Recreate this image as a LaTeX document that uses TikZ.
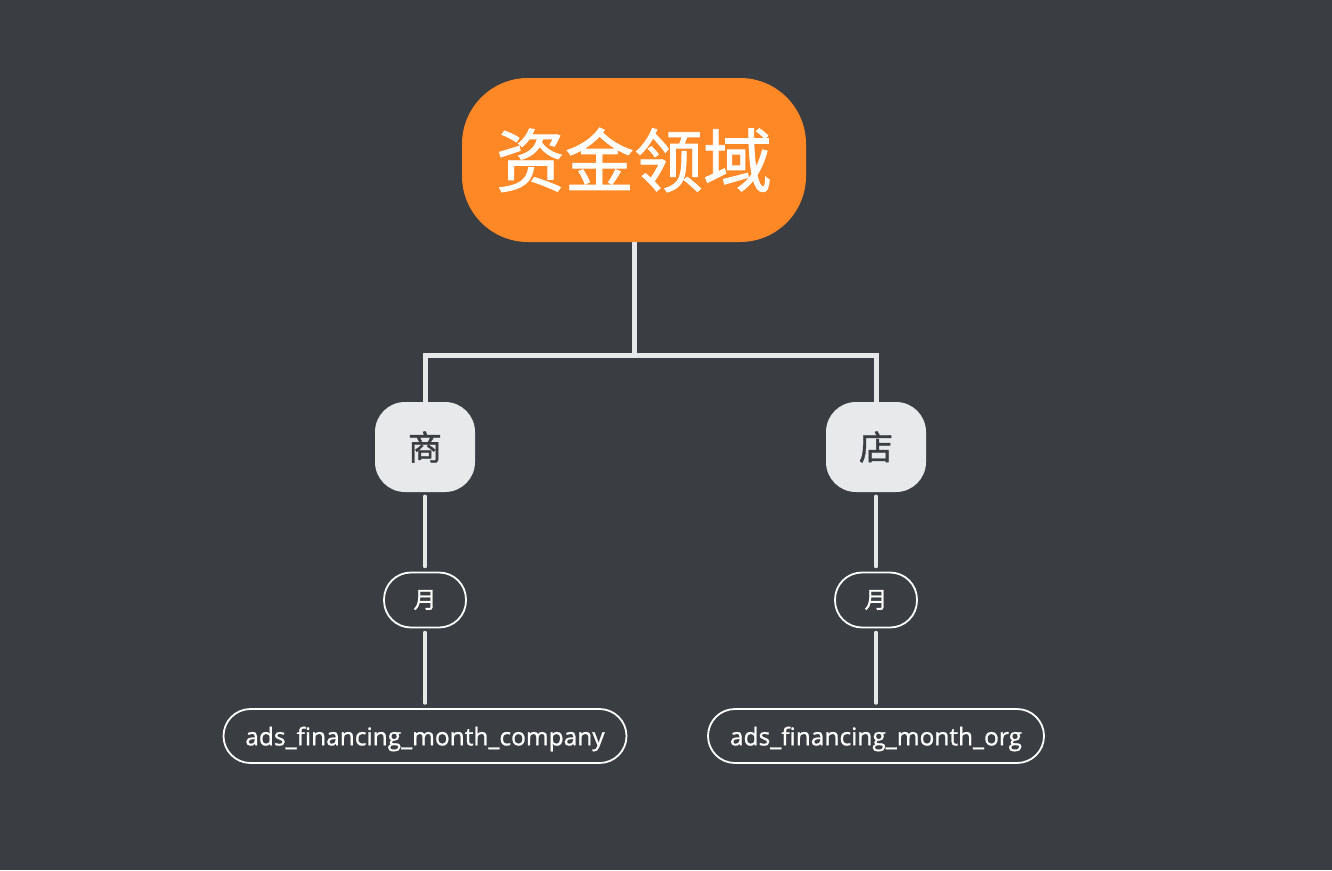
\documentclass[tikz,border=0pt]{standalone}
\usepackage{fontspec}
\setmainfont{Noto Sans CJK SC}
\newfontfamily\cjkmid{Noto Sans CJK SC}[FakeBold=1.2]
\newfontfamily\latinfont{Open Sans}[FakeBold=0.9]
\usetikzlibrary{calc}

\definecolor{bgdark}{RGB}{58,61,66}
\definecolor{rootorange}{RGB}{255,136,38}
\definecolor{keygray}{RGB}{232,233,234}
\definecolor{linkgray}{RGB}{230,231,232}

\tikzset{
  rootbox/.style={rectangle, rounded corners=66pt, fill=rootorange, text=white,
    minimum width=344pt, minimum height=164pt, inner sep=0pt,
    font=\cjkmid\fontsize{69}{80}\selectfont},
  keybox/.style={rectangle, rounded corners=30pt, fill=keygray, text=bgdark,
    minimum width=100pt, minimum height=90pt, inner sep=0pt,
    font=\cjkmid\fontsize{34}{40}\selectfont},
  periodbox/.style={rectangle, rounded corners=27pt, draw=white, line width=1.8pt,
    text=white, minimum width=82pt, minimum height=55pt, inner sep=0pt,
    font=\cjkmid\fontsize{23}{28}\selectfont},
  tablebox/.style={rectangle, rounded corners=27pt, draw=white, line width=1.8pt,
    text=white, minimum height=54pt, inner sep=0pt, text depth=0pt,
    font=\latinfont\fontsize{24.5}{29}\selectfont},
  trunk/.style={draw=linkgray, line width=5pt},
  twig/.style={draw=linkgray, line width=3.2pt, line cap=round,
    shorten <=4pt, shorten >=5pt}
}

\begin{document}
\begin{tikzpicture}[x=1pt, y=-1pt]

% canvas
\fill [bgdark] (0,0) rectangle (1332,870);
\useasboundingbox (0,0) rectangle (1332,870);

% root
\node [rootbox] (root) at (634,160) {资金领域};

% second level
\node [keybox] (shang) at (425,447) {商};
\node [keybox] (dian)  at (876,447) {店};

% period
\node [periodbox] (yueA) at (425,600) {月};
\node [periodbox] (yueB) at (876,600) {月};

% tables
\node [tablebox, minimum width=403pt] (company) at (425,736) {ads\_financing\_month\_company};
\node [tablebox, minimum width=336pt] (org)     at (876,736) {ads\_financing\_month\_org};

% links
\coordinate (fork) at (634,355);
\draw [trunk] (root.south) -- (fork) -| (shang.north);
\draw [trunk] (fork) -| (dian.north);

\draw [twig] (shang.south) -- (yueA.north);
\draw [twig] (dian.south)  -- (yueB.north);
\draw [twig] (yueA.south) -- (company.north);
\draw [twig] (yueB.south) -- (org.north);

\end{tikzpicture}
\end{document}
